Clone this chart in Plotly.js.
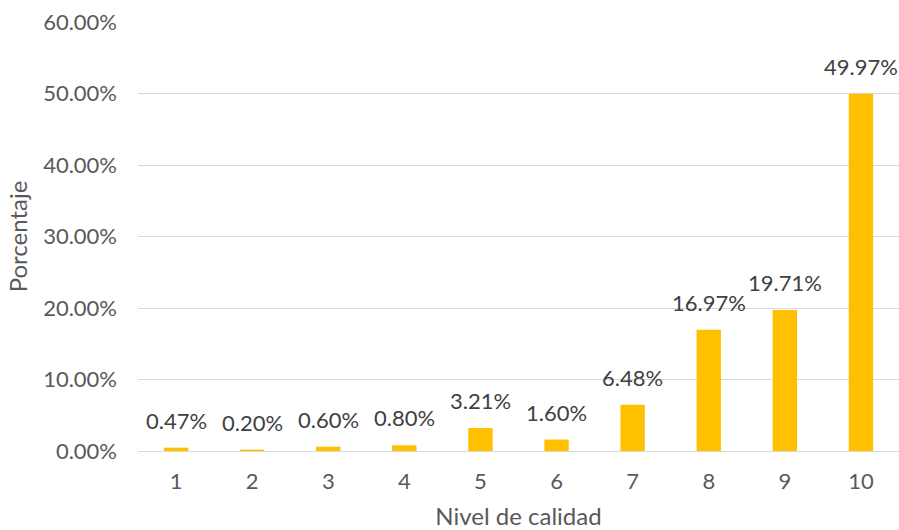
<!DOCTYPE html>
<html><head><meta charset="utf-8">
<script src="https://cdn.plot.ly/plotly-3.0.1.min.js"></script>
<style>html,body{margin:0;padding:0;background:#fff}#c{width:899px;height:530px}</style>
</head><body><div id="c"></div>
<script>
const categories = ["1","2","3","4","5","6","7","8","9","10"];
const values = [0.47, 0.20, 0.60, 0.80, 3.21, 1.60, 6.48, 16.97, 19.71, 49.97];
const labels = ["0.47%","0.20%","0.60%","0.80%","3.21%","1.60%","6.48%","16.97%","19.71%","49.97%"];
const yTicks = [0,10,20,30,40,50,60];
const yTickText = ["0.00%","10.00%","20.00%","30.00%","40.00%","50.00%","60.00%"];
const font = "Lato, 'Open Sans', sans-serif";
const annotations = categories.map((c, i) => ({
  x: i, y: values[i], text: labels[i], showarrow: false,
  xref: "x", yref: "y", yanchor: "bottom", yshift: 12,
  font: {family: font, size: 22, color: "#404040"}
}));
Plotly.newPlot("c", [{
  type: "bar", x: categories, y: values,
  marker: {color: "#FFC000"}, width: 0.32, hoverinfo: "none"
}], {
  width: 899, height: 530,
  margin: {l: 138, r: 0, t: 22, b: 79},
  paper_bgcolor: "#fff", plot_bgcolor: "#fff",
  font: {family: font, color: "#595959"},
  showlegend: false,
  annotations: annotations,
  xaxis: {type: "category", range: [-0.5, 9.5], tickfont: {size: 22, color: "#595959"}, ticks: "", showline: true, linecolor: "#D9D9D9", linewidth: 1,
    ticklabelstandoff: 11, automargin: false,
    title: {text: "Nivel de calidad", font: {size: 24, color: "#595959"}, standoff: 15}},
  yaxis: {range: [0, 60], tickvals: yTicks, ticktext: yTickText, tickfont: {size: 22, color: "#595959"},
    gridcolor: "#D9D9D9", gridwidth: 1, zeroline: false, ticks: "", ticklen: 0,
    ticklabelstandoff: 20, automargin: false,
    title: {text: "Porcentaje", font: {size: 24, color: "#595959"}, standoff: 8}}
}, {displayModeBar: false, staticPlot: true});
</script></body></html>
